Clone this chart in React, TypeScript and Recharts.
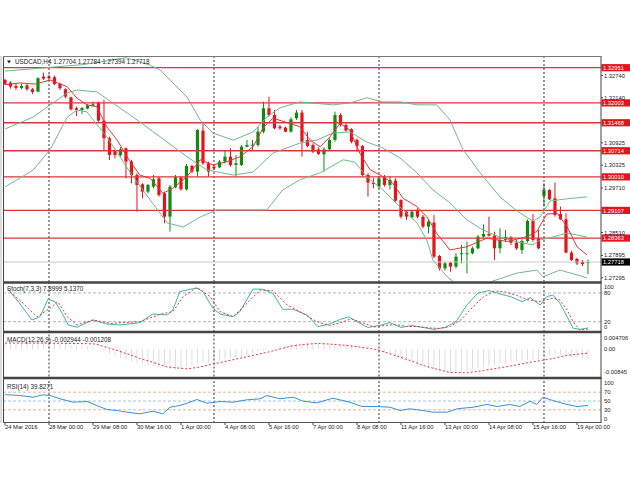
import React from 'react';
import { ComposedChart, Bar, Line, XAxis, YAxis, ReferenceLine } from 'recharts';

const FONT = '"Liberation Sans", Arial, sans-serif';
const RED = '#e3141c';
const GREEN = '#118a11';
const LEVEL_RED = '#d9363b';
const BAND = '#6dbb8a';

const timeLabels = ['24 Mar 2016', '28 Mar 00:00', '29 Mar 08:00', '30 Mar 16:00', '1 Apr 00:00', '4 Apr 08:00', '5 Apr 16:00', '7 Apr 00:00', '8 Apr 08:00', '11 Apr 16:00', '13 Apr 00:00', '14 Apr 08:00', '15 Apr 16:00', '19 Apr 00:00'];
const timeTickBars = [0, 8, 16, 24, 32, 40, 48, 56, 64, 72, 80, 88, 96, 104];
const weekStartBars = [8, 38, 68, 98];

const opens = [1.32621, 1.32549, 1.32460, 1.32406, 1.32478, 1.32370, 1.32307, 1.32711, 1.32711, 1.32693, 1.32513, 1.32370, 1.32154, 1.31858, 1.31813, 1.31849, 1.31930, 1.32011, 1.31526, 1.31050, 1.30717, 1.30601, 1.30780, 1.30421, 1.30062, 1.29810, 1.29613, 1.29748, 1.29972, 1.29568, 1.28939, 1.29730, 1.29999, 1.29676, 1.30304, 1.30152, 1.31256, 1.30376, 1.30286, 1.30268, 1.30421, 1.30556, 1.30331, 1.30331, 1.30825, 1.30852, 1.30870, 1.31229, 1.31858, 1.31678, 1.31364, 1.31337, 1.31229, 1.31588, 1.31741, 1.31005, 1.30870, 1.30753, 1.30619, 1.30753, 1.31005, 1.31678, 1.31409, 1.31292, 1.31005, 1.30843, 1.30062, 1.29855, 1.29748, 1.29999, 1.29792, 1.29909, 1.29388, 1.29074, 1.28921, 1.29119, 1.28939, 1.28670, 1.28778, 1.27880, 1.27547, 1.27700, 1.27592, 1.27925, 1.27925, 1.27952, 1.28086, 1.28401, 1.28472, 1.28428, 1.28086, 1.28311, 1.28374, 1.28239, 1.28041, 1.28284, 1.28823, 1.28356, 1.29496, 1.29658, 1.29433, 1.29011, 1.28868, 1.27970, 1.27799, 1.27727, 1.27704];
const highs = [1.32648, 1.32585, 1.32513, 1.32513, 1.32513, 1.32406, 1.32693, 1.32819, 1.32765, 1.32738, 1.32549, 1.32397, 1.32172, 1.31903, 1.31885, 1.31966, 1.32037, 1.32037, 1.32082, 1.31095, 1.30753, 1.30807, 1.30807, 1.30466, 1.30107, 1.29837, 1.29819, 1.30062, 1.30017, 1.29613, 1.29792, 1.30062, 1.30017, 1.30358, 1.30331, 1.31292, 1.31454, 1.30421, 1.30331, 1.30466, 1.30735, 1.30780, 1.30601, 1.30870, 1.31005, 1.31005, 1.31364, 1.32037, 1.32172, 1.31813, 1.31409, 1.31364, 1.31615, 1.31813, 1.31813, 1.31229, 1.30915, 1.30807, 1.30807, 1.31050, 1.31768, 1.31723, 1.31454, 1.31319, 1.31050, 1.30870, 1.30107, 1.29972, 1.30017, 1.30062, 1.30035, 1.29972, 1.29406, 1.29119, 1.29119, 1.29164, 1.28984, 1.28850, 1.28984, 1.27907, 1.27727, 1.27727, 1.27952, 1.28176, 1.28266, 1.28131, 1.28445, 1.28733, 1.28939, 1.28535, 1.28625, 1.28580, 1.28419, 1.28311, 1.28329, 1.28868, 1.29011, 1.28580, 1.29837, 1.29676, 1.29855, 1.29209, 1.29029, 1.28023, 1.27835, 1.27772, 1.27784];
const lows = [1.32486, 1.32388, 1.32352, 1.32370, 1.32334, 1.32244, 1.32289, 1.32621, 1.32603, 1.32478, 1.32352, 1.32127, 1.31795, 1.31651, 1.31705, 1.31831, 1.31903, 1.31499, 1.30717, 1.30466, 1.30511, 1.30556, 1.29972, 1.29837, 1.29074, 1.29433, 1.29568, 1.29703, 1.29478, 1.28760, 1.28535, 1.29703, 1.29640, 1.29640, 1.30107, 1.30017, 1.30331, 1.30017, 1.30197, 1.30241, 1.30376, 1.30286, 1.30017, 1.30304, 1.30807, 1.30735, 1.30825, 1.31184, 1.31633, 1.31292, 1.31274, 1.31211, 1.31202, 1.31544, 1.30556, 1.30807, 1.30646, 1.30601, 1.30152, 1.30717, 1.30960, 1.31364, 1.31229, 1.30915, 1.30690, 1.30017, 1.29478, 1.29703, 1.29703, 1.29748, 1.29676, 1.29343, 1.28894, 1.28850, 1.28894, 1.28894, 1.28625, 1.28490, 1.27817, 1.27485, 1.27485, 1.27458, 1.27547, 1.27682, 1.27413, 1.27925, 1.28059, 1.28356, 1.28401, 1.27772, 1.27952, 1.28266, 1.28176, 1.28041, 1.27934, 1.28239, 1.28266, 1.28059, 1.29209, 1.29388, 1.28939, 1.28850, 1.27952, 1.27745, 1.27637, 1.27610, 1.27394];
const closes = [1.32513, 1.32442, 1.32406, 1.32460, 1.32370, 1.32298, 1.32666, 1.32657, 1.32666, 1.32513, 1.32397, 1.32172, 1.31831, 1.31813, 1.31867, 1.31939, 1.31966, 1.31526, 1.31050, 1.30601, 1.30601, 1.30753, 1.30421, 1.30062, 1.29792, 1.29613, 1.29792, 1.29945, 1.29523, 1.28939, 1.29748, 1.29999, 1.29676, 1.30304, 1.30152, 1.31274, 1.30376, 1.30152, 1.30241, 1.30421, 1.30556, 1.30331, 1.30376, 1.30825, 1.30870, 1.30879, 1.31229, 1.31858, 1.31678, 1.31319, 1.31319, 1.31229, 1.31562, 1.31741, 1.30960, 1.30843, 1.30690, 1.30628, 1.30753, 1.31005, 1.31678, 1.31409, 1.31256, 1.30960, 1.30843, 1.30062, 1.29855, 1.29819, 1.29972, 1.29792, 1.29927, 1.29370, 1.28939, 1.28939, 1.29074, 1.28939, 1.28670, 1.28805, 1.27862, 1.27547, 1.27682, 1.27592, 1.27862, 1.27952, 1.27952, 1.28086, 1.28401, 1.28472, 1.28428, 1.28086, 1.28311, 1.28383, 1.28239, 1.28086, 1.28284, 1.28823, 1.28311, 1.28086, 1.29658, 1.29406, 1.28984, 1.28868, 1.27970, 1.27772, 1.27682, 1.27664, 1.27718];

// Bollinger bands (20) and moving average, read at sample bars: [bar, price]
const bbUpper = [[0, 1.3286], [5, 1.3292], [11.3, 1.3300], [14, 1.3303], [18, 1.3312], [22, 1.3322], [26.4, 1.3302], [28.2, 1.3289], [33.1, 1.3216], [35.5, 1.3154], [37.8, 1.3119], [41.5, 1.3100], [45.1, 1.3122], [47.6, 1.3162], [50, 1.3187], [53.6, 1.3203], [59.6, 1.3195], [62.7, 1.3200], [65.8, 1.3214], [68.7, 1.3203], [71.8, 1.3203], [74.9, 1.3195], [78.5, 1.3195], [80.9, 1.3154], [83.3, 1.3074], [86.4, 1.3012], [90, 1.2947], [93.1, 1.2909], [96, 1.2882], [97.3, 1.2893], [99.1, 1.2936], [102.2, 1.2942], [105.8, 1.2947]];
const bbMiddle = [[0, 1.3130], [5.1, 1.3162], [11.3, 1.3227], [13.1, 1.3235], [16.7, 1.3230], [23.3, 1.3162], [28.2, 1.3109], [33.1, 1.3055], [36.7, 1.3020], [41.5, 1.3006], [45.1, 1.3014], [48.7, 1.3065], [53.6, 1.3092], [56.7, 1.3100], [59.6, 1.3119], [62.7, 1.3122], [65.8, 1.3095], [68.7, 1.3079], [71.8, 1.3052], [74.9, 1.3012], [77.8, 1.2966], [80.9, 1.2931], [84, 1.2885], [86.9, 1.2858], [90, 1.2839], [93.1, 1.2826], [96, 1.2818], [97.3, 1.2831], [99.1, 1.2837], [102.2, 1.2850], [105.8, 1.2839]];
const bbLower = [[0, 1.2974], [5.1, 1.3019], [8.2, 1.3074], [11.3, 1.3162], [13.1, 1.3181], [14.9, 1.3176], [18.5, 1.3109], [23.3, 1.3001], [26.4, 1.2939], [29.5, 1.2877], [32.4, 1.2866], [35.5, 1.2893], [38.5, 1.2912], [47.6, 1.2912], [50.5, 1.2966], [53.6, 1.2993], [57.3, 1.3012], [61.5, 1.3047], [63.6, 1.3041], [65.8, 1.3001], [68.7, 1.2966], [71.8, 1.2920], [74.9, 1.2877], [76.7, 1.2831], [77.8, 1.2777], [80.4, 1.2732], [83, 1.2700], [86, 1.2690], [88.2, 1.2718], [93.1, 1.2742], [96.7, 1.2750], [97.8, 1.2732], [100.9, 1.2750], [104, 1.2737], [105.8, 1.2729]];
const maLine = [[0, 1.3249], [2.7, 1.3254], [5.5, 1.3251], [8.2, 1.3262], [11.3, 1.3244], [13.1, 1.3213], [14.9, 1.3195], [16.7, 1.3190], [18.5, 1.3136], [20.4, 1.3100], [22.2, 1.3055], [24.5, 1.3006], [26.4, 1.2997], [28.7, 1.2957], [30.5, 1.2970], [33.1, 1.3002], [35.5, 1.3047], [37.8, 1.3033], [40.4, 1.3042], [42.7, 1.3055], [45.1, 1.3082], [46.9, 1.3132], [48.7, 1.3159], [51.8, 1.3145], [53.6, 1.3136], [55.5, 1.3100], [57.3, 1.3082], [59.1, 1.3109], [60.9, 1.3145], [62.7, 1.3127], [64.5, 1.3065], [66.4, 1.3020], [68.7, 1.3002], [70.5, 1.2984], [72.4, 1.2943], [74.9, 1.2921], [76.7, 1.2894], [78.5, 1.2849], [80.9, 1.2804], [84, 1.2813], [87.6, 1.2836], [91.3, 1.2827], [94.9, 1.2840], [96.7, 1.2854], [98.5, 1.2901], [100.4, 1.2903], [102.2, 1.2867], [104, 1.2813], [105.8, 1.2791]];

const levelPrices = [1.32951, 1.32003, 1.31468, 1.30714, 1.30010, 1.29107, 1.28363];
const levelTexts = ['1.32951', '1.32003', '1.31468', '1.30714', '1.30010', '1.29107', '1.28363'];
const lastPrice = 1.27718;
const lastPriceText = '1.27718';
const priceTicks = [1.32740, 1.32140, 1.30925, 1.30325, 1.29710, 1.28510, 1.27895, 1.27295];

// Stochastic (7,3,3) sampled: [bar, value]
const stochMain = [[0.4, 89.8], [2.2, 65.3], [4.9, 23.6], [6.4, 30.5], [7.8, 66.8], [9.1, 61.8], [10.4, 37.6], [11.5, 13.2], [13.1, 8.4], [14.9, 18], [16, 23.6], [18.5, 15.2], [20.9, 13.2], [24.5, 18], [26.9, 36.1], [29.5, 34], [30.5, 44.5], [31.8, 82.7], [33.6, 87.7], [34.9, 89.8], [36, 82.7], [37.8, 48], [39.1, 36.1], [41.5, 30.5], [42.7, 40.9], [45.1, 88.3], [46.9, 87.7], [48.7, 79.3], [50.5, 45.9], [52.4, 45.9], [54.9, 34], [56.9, 9.6], [59, 15], [61, 25], [62.5, 30], [64, 20], [66, 8], [68, 12], [70, 18], [72, 8], [74, 12], [76, 8], [78, 4], [80, 8], [82, 20], [84, 55], [86, 80], [88, 85], [90, 78], [92, 72], [94, 62], [95.5, 70], [97.3, 54.9], [98.5, 72.2], [99.6, 75.8], [100.9, 58.5], [102.2, 30.5], [103.3, 6.3], [104.5, 4.2], [105.8, 6.3], [106, 7.9]];
const stochSignal = [[0.9, 82.7], [3.3, 58.5], [5.8, 30.5], [8.2, 48], [9.6, 61.8], [11.3, 30.5], [13.1, 13.2], [16, 23.6], [19.1, 16.7], [24.5, 20], [28.2, 35.5], [30.5, 40.9], [32.4, 72.2], [34.9, 91.9], [37.3, 72.2], [39.1, 40.9], [41.5, 30.5], [44, 58.5], [46.4, 86.2], [48.7, 84.8], [51.3, 54.9], [53.6, 40.9], [56.7, 20], [59, 12], [61, 18], [63, 26], [65, 18], [67, 9], [69, 12], [71, 14], [73, 10], [75, 10], [77, 7], [79, 6], [81, 10], [83, 25], [85, 50], [87, 72], [89, 84], [91, 82], [93, 75], [95, 66], [97, 62], [99.6, 68.9], [100.9, 65.3], [102.2, 44.5], [103.3, 20], [104.5, 2.7], [105.8, 4.2], [106, 5.1]];

// MACD (12,26,9) histogram, one per bar
const macdHist = [0.0018, 0.0018, 0.0018, 0.0017, 0.0017, 0.0017, 0.0018, 0.0019, 0.0019, 0.0018, 0.0017, 0.0016, 0.0014, 0.0012, 0.0011, 0.0010, 0.0009, 0.0002, -0.0006, -0.0013, -0.0020, -0.0026, -0.0032, -0.0038, -0.0042, -0.0045, -0.0049, -0.0053, -0.0056, -0.0059, -0.0061, -0.0062, -0.0058, -0.0054, -0.0049, -0.0044, -0.0042, -0.0040, -0.0039, -0.0035, -0.0030, -0.0028, -0.0026, -0.0023, -0.0019, -0.0013, -0.0009, -0.0005, -0.0002, 0.0004, 0.0010, 0.0014, 0.0017, 0.0018, 0.0018, 0.0019, 0.0019, 0.0018, 0.0017, 0.0017, 0.0018, 0.0017, 0.0016, 0.0014, 0.0011, 0.0007, 0.0002, -0.0003, -0.0008, -0.0012, -0.0017, -0.0022, -0.0030, -0.0036, -0.0042, -0.0048, -0.0054, -0.0058, -0.0062, -0.0066, -0.0070, -0.0072, -0.0071, -0.0069, -0.0066, -0.0062, -0.0058, -0.0055, -0.0052, -0.0049, -0.0046, -0.0044, -0.0041, -0.0039, -0.0037, -0.0034, -0.0032, -0.0031, -0.0022, -0.0018, -0.0017, -0.0018, -0.0022, -0.0025, -0.0027, -0.0028, -0.002944];
const macdSignal = [[0, 0.0019], [8, 0.0019], [15, 0.0017], [16.5, 0.0016], [20.4, -0.0004], [24.5, -0.0028], [29.5, -0.0055], [33.1, -0.0061], [35.5, -0.0055], [37.8, -0.0046], [42.7, -0.0028], [47.6, -0.0010], [52.4, 0.0011], [56, 0.0017], [57.3, 0.0018], [62.7, 0.0011], [67.6, -0.0001], [71.8, -0.0024], [76.7, -0.0054], [80.9, -0.0072], [84, -0.0073], [87, -0.0066], [91.3, -0.0054], [96, -0.0039], [99.6, -0.0029], [102.2, -0.0019], [106, -0.001208]];

// RSI (14) sampled
const rsiLine = [[0, 64.5], [2.7, 62.5], [5.1, 58.6], [6.9, 64], [8.2, 62.5], [10, 55], [12.4, 47.3], [14.9, 48.9], [16.7, 39.8], [18.5, 30.7], [20.4, 28.4], [22.2, 24.6], [24.5, 20.9], [26.9, 26.8], [28.7, 20.9], [30, 35.9], [31.8, 39.8], [33.1, 45], [34.9, 53.4], [36.7, 45], [39.1, 48.9], [41.5, 47.3], [44, 52.7], [46.4, 55], [47.6, 62.5], [50, 55], [52.4, 58.6], [54.2, 49.5], [56.7, 45.9], [59.6, 56.4], [62.7, 47.3], [64.9, 37.5], [67.6, 37.5], [70, 35.9], [71.8, 28.4], [73.6, 32.3], [76, 28.4], [77.8, 24.6], [80.4, 24.6], [82.2, 32.3], [85.1, 35.9], [87.6, 42], [89.5, 37.5], [91.8, 42], [93.6, 37.5], [95.5, 49.5], [96.7, 42], [97.8, 58.6], [99.6, 51.1], [102.2, 42], [104, 37.5], [106, 39.8271]];

const X_DOMAIN: [number, number] = [-0.182, 108.364];

const candles = opens.map((o, i) => ({ i, o, h: highs[i], l: lows[i], c: closes[i] }));
const macdRows = macdHist.map((m, i) => ({ i, m }));
const pts = (arr: number[][]) => arr.map(([i, v]) => ({ i, v }));

const Candle = (props: any) => {
  const { x, y, width, height, payload } = props;
  if (x == null || y == null || !payload) return null;
  const { o, h, l, c } = payload;
  const top = height < 0 ? y + height : y;
  const hh = Math.abs(height);
  const up = c >= o;
  const color = up ? GREEN : RED;
  const cx = x + width / 2;
  const range = h - l || 1e-9;
  const k = hh / range;
  const bTop = top + (h - Math.max(o, c)) * k;
  const bBot = top + (h - Math.min(o, c)) * k;
  return (
    <g>
      <line x1={cx} x2={cx} y1={top} y2={top + hh} stroke={color} strokeWidth={1} />
      <rect x={cx - 1.6} y={bTop} width={3.2} height={Math.max(1, bBot - bTop)} fill={color} />
    </g>
  );
};

const PriceTick = (props: any) => {
  const { x, y, payload } = props;
  return (
    <text x={x} y={y} dy={2} fontSize={5.8} fill="#222" fontFamily={FONT} textAnchor="start">
      {Number(payload.value).toFixed(5)}
    </text>
  );
};

const makeSubTick = (top: number, bottom: number, fmt: (v: number) => string) => (props: any) => {
  const { x, y, payload } = props;
  const v = payload.value;
  const dy = v === top ? 6 : v === bottom ? -2.5 : 2;
  return (
    <text x={x} y={y} dy={dy} fontSize={5.8} fill="#222" fontFamily={FONT} textAnchor="start">
      {fmt(v)}
    </text>
  );
};

const TimeTick = (props: any) => {
  const { x, y, payload } = props;
  const idx = timeTickBars.indexOf(payload.value);
  return (
    <text x={x} y={y} dy={3} fontSize={5.8} fill="#222" fontFamily={FONT} textAnchor="start">
      {idx >= 0 ? timeLabels[idx] : ''}
    </text>
  );
};

const BoxLabel = (props: any) => {
  const { viewBox, text, fill } = props;
  if (!viewBox) return null;
  const { x, y, width } = viewBox;
  return (
    <g>
      <rect x={x + width + 0.5} y={y - 3.6} width={28.5} height={7.2} fill={fill} />
      <text x={x + width + 2} y={y + 2.1} fontSize={5.8} fill="#fff" fontFamily={FONT}>{text}</text>
    </g>
  );
};

const sepLines = (keyPrefix: string) =>
  weekStartBars.map((b) => (
    <ReferenceLine key={keyPrefix + b} x={b} stroke="#333" strokeDasharray="2 2" strokeWidth={1} />
  ));

const MARGIN = { top: 0, right: 0, bottom: 0, left: 4 };

export default function App() {
  return (
    <div style={{ position: 'absolute', left: 0, top: 0, width: 630, height: 490, background: '#fff', overflow: 'hidden' }}>
      {/* Main price panel */}
      <div style={{ position: 'absolute', left: 0, top: 57, width: 630, height: 225 }}>
        <ComposedChart width={630} height={225} data={candles} margin={MARGIN}>
          <XAxis dataKey="i" type="number" domain={X_DOMAIN} allowDataOverflow hide />
          <YAxis
            orientation="right"
            width={29}
            domain={[1.27179, 1.33239]}
            allowDataOverflow
            ticks={priceTicks}
            interval={0}
            tick={<PriceTick />}
            tickSize={2}
            tickMargin={1}
            axisLine={false}
            tickLine={{ stroke: '#444' }}
          />
          {sepLines('m')}
          <ReferenceLine
            y={lastPrice}
            stroke="#c8c8c8"
            strokeWidth={1}
            label={(p: any) => <BoxLabel {...p} text={lastPriceText} fill="#000" />}
          />
          <Bar dataKey={(d: any) => [d.l, d.h]} shape={<Candle />} barSize={3} isAnimationActive={false} />
          {levelPrices.map((p, k) => (
            <ReferenceLine
              key={'lv' + k}
              y={p}
              stroke={LEVEL_RED}
              strokeWidth={1.3}
              label={(lp: any) => <BoxLabel {...lp} text={levelTexts[k]} fill={RED} />}
            />
          ))}
          <Line data={pts(bbUpper)} dataKey="v" type="linear" stroke={BAND} strokeWidth={1} dot={false} isAnimationActive={false} />
          <Line data={pts(bbMiddle)} dataKey="v" type="linear" stroke={BAND} strokeWidth={1} dot={false} isAnimationActive={false} />
          <Line data={pts(bbLower)} dataKey="v" type="linear" stroke={BAND} strokeWidth={1} dot={false} isAnimationActive={false} />
          <Line data={pts(maLine)} dataKey="v" type="linear" stroke="#e2323a" strokeWidth={1} dot={false} isAnimationActive={false} />
        </ComposedChart>
      </div>

      {/* Stochastic panel */}
      <div style={{ position: 'absolute', left: 0, top: 283, width: 630, height: 49 }}>
        <ComposedChart width={630} height={49} margin={MARGIN}>
          <XAxis dataKey="i" type="number" domain={X_DOMAIN} allowDataOverflow hide />
          <YAxis
            orientation="right"
            width={29}
            domain={[-1.5, 100.8]}
            allowDataOverflow
            ticks={[0, 20, 80, 100]}
            interval={0}
            tick={makeSubTick(100, 0, (v) => String(v))}
            tickSize={2}
            tickMargin={1}
            axisLine={false}
            tickLine={false}
          />
          {sepLines('s')}
          <ReferenceLine y={80} stroke="#b4b4b4" strokeDasharray="3 2" />
          <ReferenceLine y={20} stroke="#b4b4b4" strokeDasharray="3 2" />
          <Line data={pts(stochMain)} dataKey="v" type="linear" stroke="#3fb5a5" strokeWidth={1} dot={false} isAnimationActive={false} />
          <Line data={pts(stochSignal)} dataKey="v" type="linear" stroke="#e23a3a" strokeWidth={1} strokeDasharray="2 2" dot={false} isAnimationActive={false} />
        </ComposedChart>
      </div>

      {/* MACD panel */}
      <div style={{ position: 'absolute', left: 0, top: 334, width: 630, height: 42.5 }}>
        <ComposedChart width={630} height={42.5} data={macdRows} margin={MARGIN}>
          <XAxis dataKey="i" type="number" domain={X_DOMAIN} allowDataOverflow hide />
          <YAxis
            orientation="right"
            width={29}
            domain={[-0.00845, 0.004706]}
            allowDataOverflow
            ticks={[-0.00845, 0, 0.004706]}
            interval={0}
            tick={makeSubTick(0.004706, -0.00845, (v) => (v === 0 ? '0.00' : v === 0.004706 ? '0.004706' : '-0.00845'))}
            tickSize={2}
            tickMargin={1}
            axisLine={false}
            tickLine={false}
          />
          {sepLines('d')}
          <Bar dataKey="m" fill="#bdbdbd" barSize={1} isAnimationActive={false} />
          <Line data={pts(macdSignal)} dataKey="v" type="linear" stroke="#e23a3a" strokeWidth={1} strokeDasharray="2 2" dot={false} isAnimationActive={false} />
        </ComposedChart>
      </div>

      {/* RSI panel with time axis */}
      <div style={{ position: 'absolute', left: 0, top: 378.5, width: 630, height: 58 }}>
        <ComposedChart width={630} height={58} margin={MARGIN}>
          <XAxis
            dataKey="i"
            type="number"
            domain={X_DOMAIN}
            allowDataOverflow
            ticks={timeTickBars}
            interval={0}
            height={14}
            tick={<TimeTick />}
            tickSize={2}
            tickMargin={1}
            axisLine={false}
            tickLine={{ stroke: '#444' }}
          />
          <YAxis
            orientation="right"
            width={29}
            domain={[0, 100]}
            allowDataOverflow
            ticks={[0, 30, 50, 70, 100]}
            interval={0}
            tick={makeSubTick(100, 0, (v) => String(v))}
            tickSize={2}
            tickMargin={1}
            axisLine={false}
            tickLine={false}
          />
          {sepLines('r')}
          <ReferenceLine y={70} stroke="#e8b4a0" strokeDasharray="3 2" />
          <ReferenceLine y={50} stroke="#a9c6e0" strokeDasharray="3 2" />
          <ReferenceLine y={30} stroke="#e8b4a0" strokeDasharray="3 2" />
          <Line data={pts(rsiLine)} dataKey="v" type="linear" stroke="#3c8fd8" strokeWidth={1} dot={false} isAnimationActive={false} />
        </ComposedChart>
      </div>

      {/* Frame, separators and panel captions */}
      <svg width={630} height={490} style={{ position: 'absolute', left: 0, top: 0, pointerEvents: 'none' }}>
        <line x1={1} x2={1} y1={56} y2={423} stroke="#bbb" strokeWidth={1} />
        <line x1={3.5} x2={3.5} y1={56} y2={423} stroke="#444" strokeWidth={1} />
        <line x1={601} x2={601} y1={56} y2={423} stroke="#444" strokeWidth={1} />
        <line x1={3} x2={601.5} y1={56.5} y2={56.5} stroke="#777" strokeWidth={1} />
        <line x1={3} x2={601.5} y1={282.5} y2={282.5} stroke="#444" strokeWidth={2.5} />
        <line x1={3} x2={601.5} y1={332} y2={332} stroke="#444" strokeWidth={2.5} />
        <line x1={3} x2={601.5} y1={378} y2={378} stroke="#444" strokeWidth={2.5} />
        <line x1={3} x2={601.5} y1={422.5} y2={422.5} stroke="#555" strokeWidth={1} />
        <polygon points="7,60.5 11,60.5 9,63.5" fill="#222" />
        <text x={15} y={64} fontSize={6.3} fill="#222" fontFamily={FONT}>USDCAD,H4  1.27704 1.27784 1.27394 1.27718</text>
        <text x={7} y={291} fontSize={6.3} fill="#222" fontFamily={FONT}>Stoch(7,3,3) 7.8999 5.1370</text>
        <text x={7} y={342} fontSize={6.3} fill="#222" fontFamily={FONT}>MACD(12,26,9) -0.002944 -0.001208</text>
        <text x={7} y={389} fontSize={6.3} fill="#222" fontFamily={FONT}>RSI(14) 39.8271</text>
      </svg>
    </div>
  );
}
